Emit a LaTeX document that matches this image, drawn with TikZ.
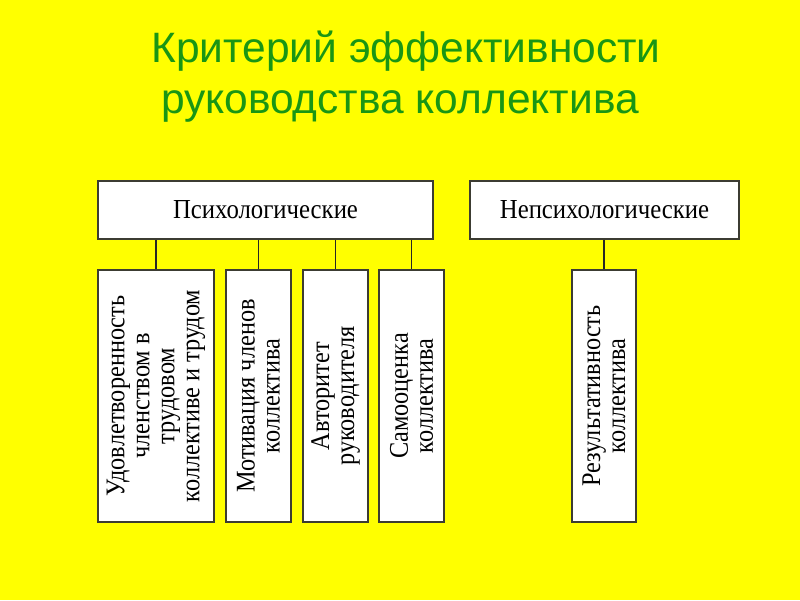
\documentclass[tikz,border=0pt]{standalone}
\usepackage{fontspec}
\setmainfont{Liberation Serif}
\newfontfamily\titlefont{Liberation Sans}
\newfontfamily\boxfont[FakeStretch=0.9]{Liberation Serif}
\usetikzlibrary{positioning}
\definecolor{SlideYellow}{RGB}{255,255,0}
\definecolor{TitleGreen}{RGB}{25,150,20}
\definecolor{BoxLine}{RGB}{60,60,50}

\begin{document}
\begin{tikzpicture}[x=1pt, y=-1pt,
		box/.style={draw=BoxLine, fill=white, line width=1.2pt, inner sep=0pt, font=\boxfont\fontsize{27.5}{25}\selectfont},
		vbox/.style={box, rotate=90, minimum width=252pt, align=center, font=\boxfont\fontsize{27}{25}\selectfont},
		conn/.style={draw=black!85, line width=1.2pt},
		title/.style={text=TitleGreen, font=\titlefont\fontsize{42.5}{51}\selectfont, anchor=base}]
		\fill[SlideYellow] (0,0) rectangle (800,600);
		\useasboundingbox (0,0) rectangle (800,600);
		\node[title] (title1) at (406,62) {Критерий эффективности};
		\node[title] (title2) at (400,113) {руководства коллектива};
		\node[box, minimum width=335pt, minimum height=58pt] (psy) at (265.5,210) {Психологические};
		\node[box, minimum width=269pt, minimum height=58pt] (nepsy) at (604.5,210) {Непсихологические};
		\node[vbox, minimum height=116pt] (satisf) at (156,396) {Удовлетворенность\\членством в\\трудовом\\коллективе и трудом};
		\node[vbox, minimum height=65pt] (motiv) at (258.5,396) {Мотивация членов\\коллектива};
		\node[vbox, minimum height=65pt] (auth) at (335.5,396) {Авторитет\\руководителя};
		\node[vbox, minimum height=65pt] (selfest) at (411.5,396) {Самооценка\\коллектива};
		\node[vbox, minimum height=64pt] (result) at (604,396) {Результативность\\коллектива};
		\foreach \b in {satisf, motiv, auth, selfest}
			\draw[conn] (psy.south -| \b.center) -- (\b.east);
		\draw[conn] (nepsy.south -| result.center) -- (result.east);
	\end{tikzpicture}
\end{document}
